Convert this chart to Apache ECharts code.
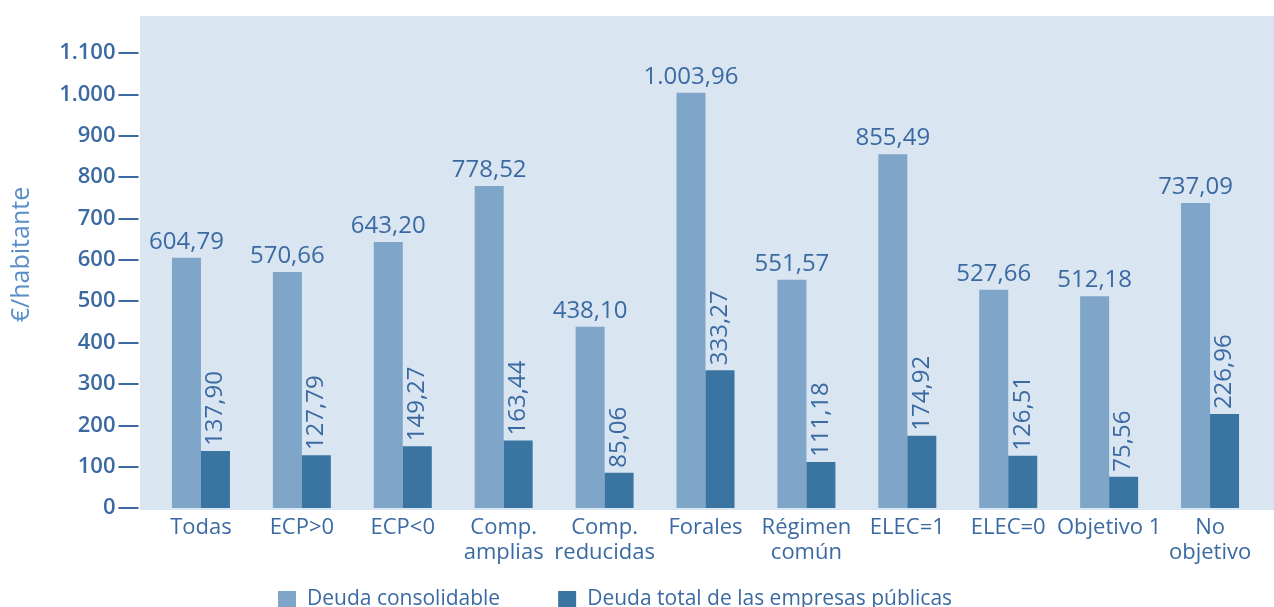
<!DOCTYPE html>
<html>
<head>
<meta charset="utf-8">
<script src="https://cdn.jsdelivr.net/npm/echarts@6/dist/echarts.min.js"></script>
<style>
html,body{margin:0;padding:0;background:#fff;}
#c{width:1274px;height:607px;}
</style>
</head>
<body>
<div id="c"></div>
<script>
var categories = ['Todas', 'ECP>0', 'ECP<0', 'Comp.\namplias', 'Comp.\nreducidas', 'Forales', 'Régimen\ncomún', 'ELEC=1', 'ELEC=0', 'Objetivo 1', 'No\nobjetivo'];
var deudaConsolidable = [604.79, 570.66, 643.20, 778.52, 438.10, 1003.96, 551.57, 855.49, 527.66, 512.18, 737.09];
var deudaEmpresas = [137.90, 127.79, 149.27, 163.44, 85.06, 333.27, 111.18, 174.92, 126.51, 75.56, 226.96];
var seriesNames = ['Deuda consolidable', 'Deuda total de las empresas públicas'];
var yMin = 0, yMax = 1100, yStep = 100;

function fmtEs(v, dec) {
  var s = v.toFixed(dec);
  var parts = s.split('.');
  var ip = parts[0].replace(/\B(?=(\d{3})+(?!\d))/g, '.');
  return dec > 0 ? ip + ',' + parts[1] : ip;
}

var textColor = '#3b6aa3';
var font = 'Open Sans';
var chart = echarts.init(document.getElementById('c'));
chart.setOption({
  animation: false,
  textStyle: { fontFamily: font },
  graphic: [{
    type: 'rect', z: -100,
    shape: { x: 140, y: 16, width: 1134, height: 494 },
    style: { fill: '#d9e5f0' }
  }],
  grid: { left: 150.5, right: 13.5, top: 53, bottom: 99 },
  legend: {
    left: 273, top: 584,
    itemWidth: 18, itemHeight: 17, itemGap: 58,
    icon: 'rect',
    textStyle: { color: textColor, fontSize: 21, fontFamily: font, padding: [0, 0, 0, 6] },
    data: seriesNames
  },
  xAxis: {
    type: 'category',
    data: categories,
    axisLine: { show: false },
    axisTick: { show: false },
    axisLabel: { color: textColor, fontSize: 22, lineHeight: 25, margin: 7, interval: 0, fontFamily: font }
  },
  yAxis: {
    type: 'value',
    min: yMin, max: yMax, interval: yStep,
    offset: 12,
    name: '€/habitante',
    nameLocation: 'middle',
    nameRotate: 90,
    nameGap: 104,
    nameTextStyle: { color: '#5a8ec8', fontSize: 25, fontFamily: font, padding: [0, 0, 0, 52] },
    axisLine: { show: false },
    axisTick: { show: true, length: 20, lineStyle: { color: '#3b6aa3', width: 2 } },
    splitLine: { show: false },
    axisLabel: {
      color: textColor, fontSize: 22, fontWeight: 600, margin: 23, fontFamily: font,
      padding: [0, 0, 8, 0],
      formatter: function (v) { return fmtEs(v, 0); }
    }
  },
  series: [{
    name: seriesNames[0],
    type: 'bar',
    data: deudaConsolidable,
    barWidth: 29,
    barGap: '0%',
    itemStyle: { color: '#7fa5c9' },
    label: {
      show: true, position: 'top', distance: 4,
      color: textColor, fontSize: 24, fontFamily: font,
      formatter: function (p) { return fmtEs(p.value, 2); }
    }
  }, {
    name: seriesNames[1],
    type: 'bar',
    data: deudaEmpresas,
    barWidth: 29,
    barGap: '0%',
    itemStyle: { color: '#3a75a2' },
    label: {
      show: true, position: 'top', distance: 5,
      rotate: 90, align: 'left', verticalAlign: 'middle',
      color: textColor, fontSize: 24, fontFamily: font,
      formatter: function (p) { return fmtEs(p.value, 2); }
    }
  }]
});
</script>
</body>
</html>
